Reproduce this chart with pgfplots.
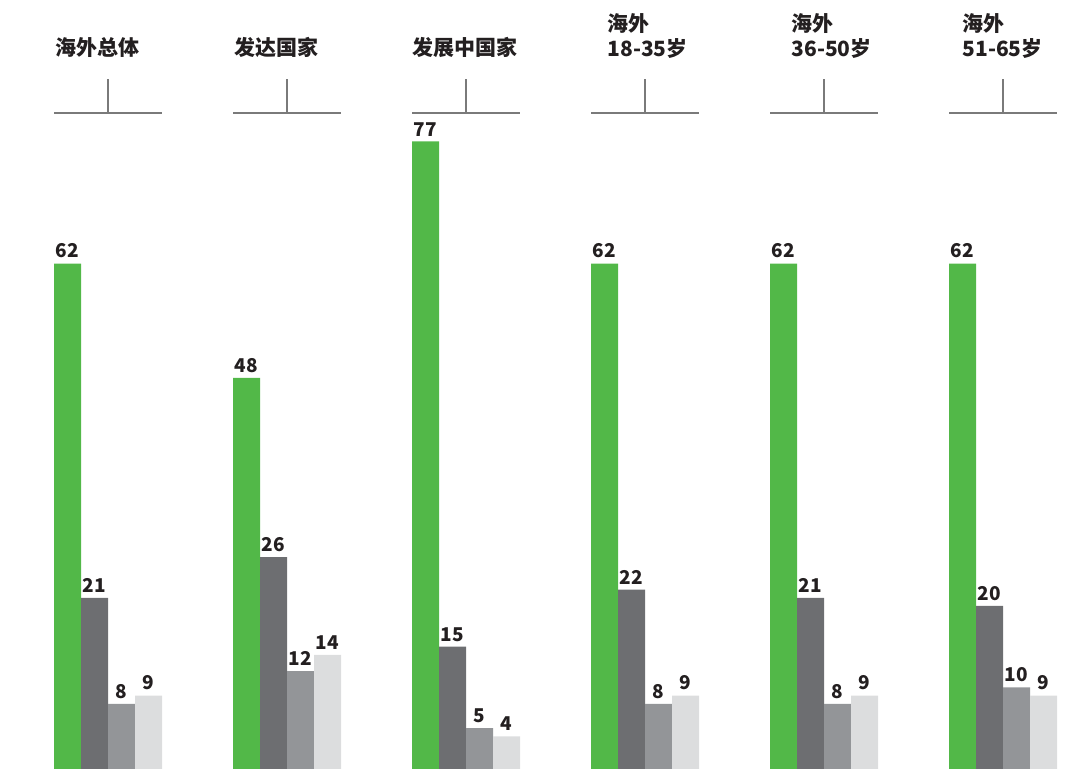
\documentclass[border=0pt]{standalone}
\usepackage{pgfplots}
\pgfplotsset{compat=1.18}
\usepackage{fontspec}
\setmainfont{Noto Sans CJK SC}
\definecolor{cgreen}{HTML}{52B848}
\definecolor{cdark}{HTML}{6D6E71}
\definecolor{cmid}{HTML}{939598}
\definecolor{clight}{HTML}{DCDDDE}
\definecolor{ctext}{HTML}{231F20}
\definecolor{cline}{HTML}{7A7A7A}
\begin{document}
\begin{tikzpicture}
\begin{axis}[
  scale only axis, width=546pt, height=384pt,
  xmin=-0.6034, xmax=5.497, ymin=0, ymax=94.23,
  hide axis, clip=false,
  ybar=0pt, bar width=13.5pt,
  /pgf/number format/assume math mode=true,
  nodes near coords,
  every node near coord/.append style={font=\bfseries\fontsize{9.5}{11}\selectfont, text=ctext, inner sep=2.5pt},
]
\path (rel axis cs:0,0) rectangle (rel axis cs:1,1.0013);
\addplot[fill=cgreen, draw=none] coordinates {(0,62) (1,48) (2,77) (3,62) (4,62) (5,62)};
\addplot[fill=cdark, draw=none] coordinates {(0,21) (1,26) (2,15) (3,22) (4,21) (5,20)};
\addplot[fill=cmid, draw=none] coordinates {(0,8) (1,12) (2,5) (3,8) (4,8) (5,10)};
\addplot[fill=clight, draw=none] coordinates {(0,9) (1,14) (2,4) (3,9) (4,9) (5,9)};
\pgfplotsinvokeforeach{0,...,5}{
  \draw[cline, line width=0.75pt] ([xshift=-27pt]axis cs:#1,80.49) -- ([xshift=27pt]axis cs:#1,80.49);
  \draw[cline, line width=0.75pt] (axis cs:#1,80.49) -- (axis cs:#1,84.66);
}
\tikzset{ttl/.style={anchor=base west, align=left, inner sep=0pt, text=ctext, font=\bfseries\fontsize{10.5}{12.5}\selectfont}}
\node[ttl] at ([xshift=-26.5pt]axis cs:0,87.6) {海外总体};
\node[ttl] at ([xshift=-26.5pt]axis cs:1,87.6) {发达国家};
\node[ttl] at ([xshift=-27pt]axis cs:2,87.6) {发展中国家};
\node[ttl, anchor=south west] at ([xshift=-19pt, yshift=-2.2pt]axis cs:3,87.6) {海外\\18-35岁};
\node[ttl, anchor=south west] at ([xshift=-16.5pt, yshift=-2.2pt]axis cs:4,87.6) {海外\\36-50岁};
\node[ttl, anchor=south west] at ([xshift=-20.5pt, yshift=-2.2pt]axis cs:5,87.6) {海外\\51-65岁};
\end{axis}
\end{tikzpicture}
\end{document}
